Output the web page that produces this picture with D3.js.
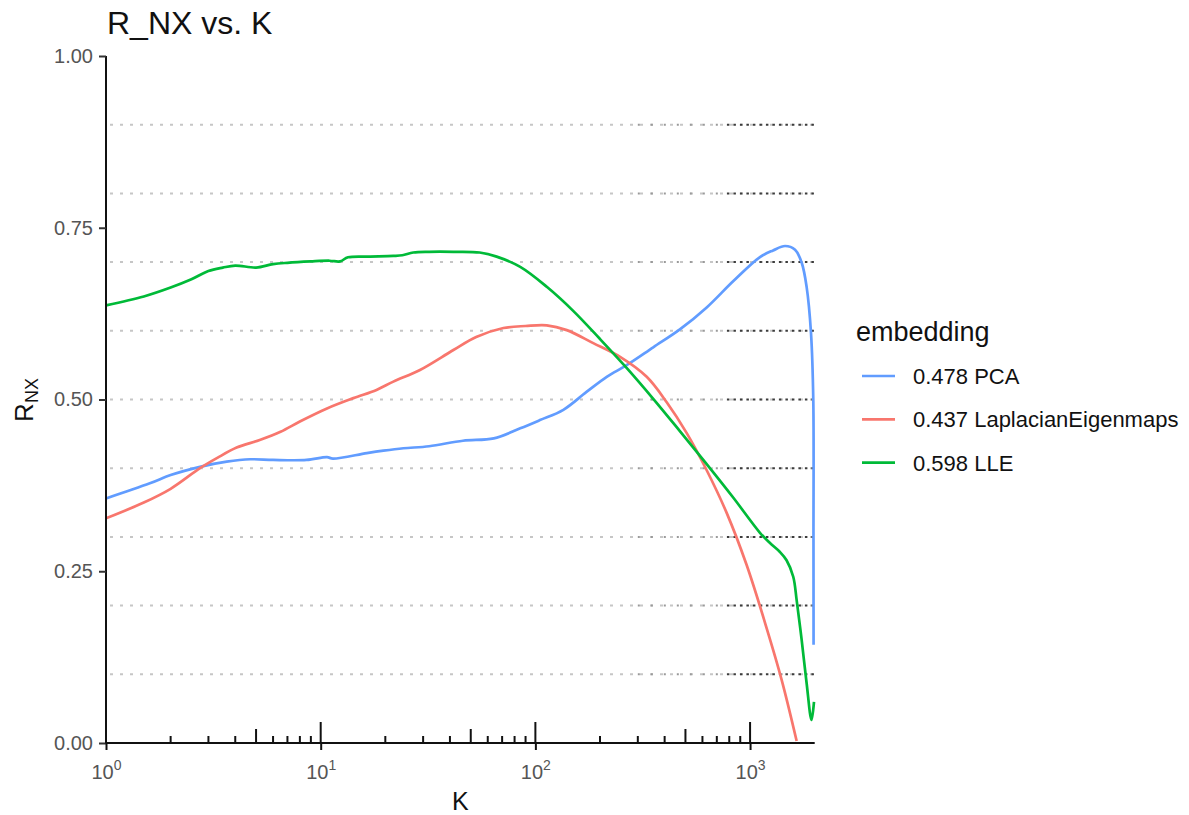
<!DOCTYPE html>
<html>
<head>
<meta charset="utf-8">
<script src="https://cdn.jsdelivr.net/npm/d3@7/dist/d3.min.js"></script>
<style>
  body { margin: 0; background: #fff; }
  svg { display: block; font-family: "Liberation Sans", Arial, Helvetica, sans-serif; }
</style>
</head>
<body>
<svg id="chart" width="1189" height="815"></svg>
<script>
// Neighbourhood size K (log scale) and R_NX for each embedding
const pcaK   = [1, 1.6, 2, 2.74, 3.65, 4.7, 6, 8.6, 10.7, 11.4, 16.4, 19.6, 24.3, 32, 46, 64, 85, 105, 135, 173, 215, 266, 354, 471, 628, 836, 1112, 1280, 1455, 1620, 1740, 1834, 1922, 1970, 1974, 1976];
const pcaR   = [0.356, 0.378, 0.390, 0.402, 0.4095, 0.413, 0.412, 0.412, 0.416, 0.414, 0.422, 0.4255, 0.429, 0.432, 0.440, 0.4435, 0.458, 0.470, 0.485, 0.511, 0.533, 0.550, 0.576, 0.602, 0.634, 0.6725, 0.7074, 0.717, 0.7234, 0.718, 0.699, 0.664, 0.597, 0.499, 0.300, 0.143];

const leK    = [1, 1.5, 2, 2.74, 3.3, 4.06, 5.2, 6.5, 8, 10.7, 14.2, 18.2, 21.8, 29, 41.5, 53, 71, 90, 113, 140, 186, 248, 330, 409, 507, 628, 778, 964, 1195, 1403, 1648];
const leR    = [0.327, 0.350, 0.370, 0.400, 0.415, 0.430, 0.441, 0.453, 0.468, 0.487, 0.502, 0.514, 0.526, 0.543, 0.572, 0.591, 0.604, 0.607, 0.608, 0.601, 0.582, 0.562, 0.533, 0.496, 0.451, 0.397, 0.335, 0.259, 0.167, 0.092, 0.003];

const lleK   = [1, 1.5, 2, 2.5, 3, 3.5, 4, 5, 6, 7, 9, 11, 12.3, 13.4, 17, 21.8, 24, 27, 32, 41.5, 55, 66, 85, 113, 150, 200, 266, 354, 471, 628, 836, 1112, 1238, 1378, 1479, 1589, 1648, 1739, 1834, 1932, 1985];
const lleR   = [0.637, 0.650, 0.663, 0.675, 0.687, 0.692, 0.695, 0.692, 0.697, 0.699, 0.701, 0.702, 0.701, 0.707, 0.708, 0.709, 0.710, 0.714, 0.715, 0.715, 0.714, 0.708, 0.693, 0.664, 0.629, 0.588, 0.546, 0.501, 0.454, 0.406, 0.357, 0.306, 0.291, 0.278, 0.266, 0.242, 0.208, 0.150, 0.087, 0.0335, 0.060];

const seriesNames  = ["0.478 PCA", "0.437 LaplacianEigenmaps", "0.598 LLE"];
const seriesColors = ["#619CFF", "#F8766D", "#00BA38"];

const yTicks      = [0, 0.25, 0.5, 0.75, 1];
const xTicks      = [1, 10, 100, 1000];
const xTickExp    = ["0", "1", "2", "3"];
const refLevels   = [0.1, 0.2, 0.3, 0.4, 0.5, 0.6, 0.7, 0.8, 0.9];
const kDomain     = [1, 2000];

const svg = d3.select("#chart");
const plotLeft = 106, plotRight = 814.7, plotTop = 56, plotBottom = 743;

const x = d3.scaleLog().domain(kDomain).range([plotLeft, plotRight]);
const y = d3.scaleLinear().domain([0, 1]).range([plotBottom, plotTop]);

// dotted reference lines, denser and darker towards large K
const grid = svg.append("g");
refLevels.forEach(v => {
  grid.append("line")
    .attr("x1", x(1)).attr("x2", x(1998)).attr("y1", y(v)).attr("y2", y(v))
    .attr("stroke", "#c6c6c6").attr("stroke-width", 2).attr("stroke-dasharray", "3 7").attr("stroke-dashoffset", -4);
  grid.append("line")
    .attr("x1", x(300)).attr("x2", x(750)).attr("y1", y(v)).attr("y2", y(v))
    .attr("stroke", "#9a9a9a").attr("stroke-width", 2).attr("stroke-dasharray", "2 11");
  grid.append("line")
    .attr("x1", x(780)).attr("x2", x(1998)).attr("y1", y(v)).attr("y2", y(v))
    .attr("stroke", "#3c3c3c").attr("stroke-width", 2).attr("stroke-dasharray", "2.5 4");
});

// curves
const series = [
  { k: pcaK, r: pcaR },
  { k: leK,  r: leR },
  { k: lleK, r: lleR }
];
const line = d3.line().curve(d3.curveCatmullRom.alpha(0.5))
  .x(d => x(d[0])).y(d => y(d[1]));
series.forEach((s, i) => {
  svg.append("path")
    .datum(s.k.map((k, j) => [k, s.r[j]]))
    .attr("d", line)
    .attr("fill", "none")
    .attr("stroke", seriesColors[i])
    .attr("stroke-width", 2.7)
    .attr("stroke-linejoin", "round");
});

// y axis
const yAxis = svg.append("g").attr("transform", `translate(${plotLeft},0)`)
  .call(d3.axisLeft(y).tickValues(yTicks).tickFormat(d3.format(".2f")).tickSize(7).tickPadding(6));
yAxis.select(".domain").attr("stroke", "#111").attr("stroke-width", 2).attr("d", `M0,${plotTop}V${plotBottom}`);
yAxis.selectAll(".tick line").attr("stroke", "#333").attr("stroke-width", 2);
yAxis.selectAll(".tick text").attr("fill", "#555").attr("font-size", 20).attr("font-family", "Liberation Sans, Arial, sans-serif");

// x axis with power-of-ten labels
const xAxis = svg.append("g").attr("transform", `translate(0,${plotBottom})`)
  .call(d3.axisBottom(x).tickValues(xTicks).tickFormat("").tickSize(7));
xAxis.select(".domain").attr("stroke", "#111").attr("stroke-width", 2).attr("d", `M${plotLeft},0H${plotRight}`);
xAxis.selectAll(".tick line").attr("stroke", "#111").attr("stroke-width", 2);
xAxis.selectAll(".tick").each(function(d, i) {
  const t = d3.select(this).append("text")
    .attr("y", 36).attr("fill", "#555").attr("text-anchor", "middle")
    .attr("font-size", 20).attr("font-family", "Liberation Sans, Arial, sans-serif");
  t.append("tspan").text("10");
  t.append("tspan").attr("font-size", 14).attr("dy", -9).text(xTickExp[i]);
});

// log ticks along the bottom, inside the panel
const logTicks = [];
for (let d = 0; d <= 3; d++) {
  for (let m = 1; m <= 9; m++) {
    const k = m * Math.pow(10, d);
    if (k >= kDomain[0] && k < kDomain[1]) logTicks.push({ k, len: m === 1 ? 21 : (m === 5 ? 14 : 7) });
  }
}
svg.append("g").selectAll("line").data(logTicks).join("line")
  .attr("x1", d => x(d.k)).attr("x2", d => x(d.k))
  .attr("y1", plotBottom).attr("y2", d => plotBottom - d.len)
  .attr("stroke", "#111").attr("stroke-width", 2);

// titles
svg.append("text").attr("x", 107).attr("y", 34)
  .attr("font-size", 32).attr("fill", "#111").text("R_NX vs. K");

svg.append("text").attr("x", (plotLeft + plotRight) / 2).attr("y", 810)
  .attr("text-anchor", "middle").attr("font-size", 25).attr("fill", "#111").text("K");

const yl = svg.append("text")
  .attr("transform", "translate(33,400) rotate(-90)")
  .attr("text-anchor", "middle").attr("font-size", 26).attr("fill", "#111");
yl.append("tspan").text("R");
yl.append("tspan").attr("font-size", 18).attr("dy", 5).text("NX");

// legend
const lg = svg.append("g");
lg.append("text").attr("x", 856).attr("y", 341).attr("font-size", 27).attr("fill", "#111").text("embedding");
seriesNames.forEach((name, i) => {
  const cy = 376 + i * 43.3;
  lg.append("line").attr("x1", 862).attr("x2", 895).attr("y1", cy).attr("y2", cy)
    .attr("stroke", seriesColors[i]).attr("stroke-width", 2.7);
  lg.append("text").attr("x", 913).attr("y", cy + 8).attr("font-size", 22)
    .attr("fill", "#111").text(name);
});
</script>
</body>
</html>
